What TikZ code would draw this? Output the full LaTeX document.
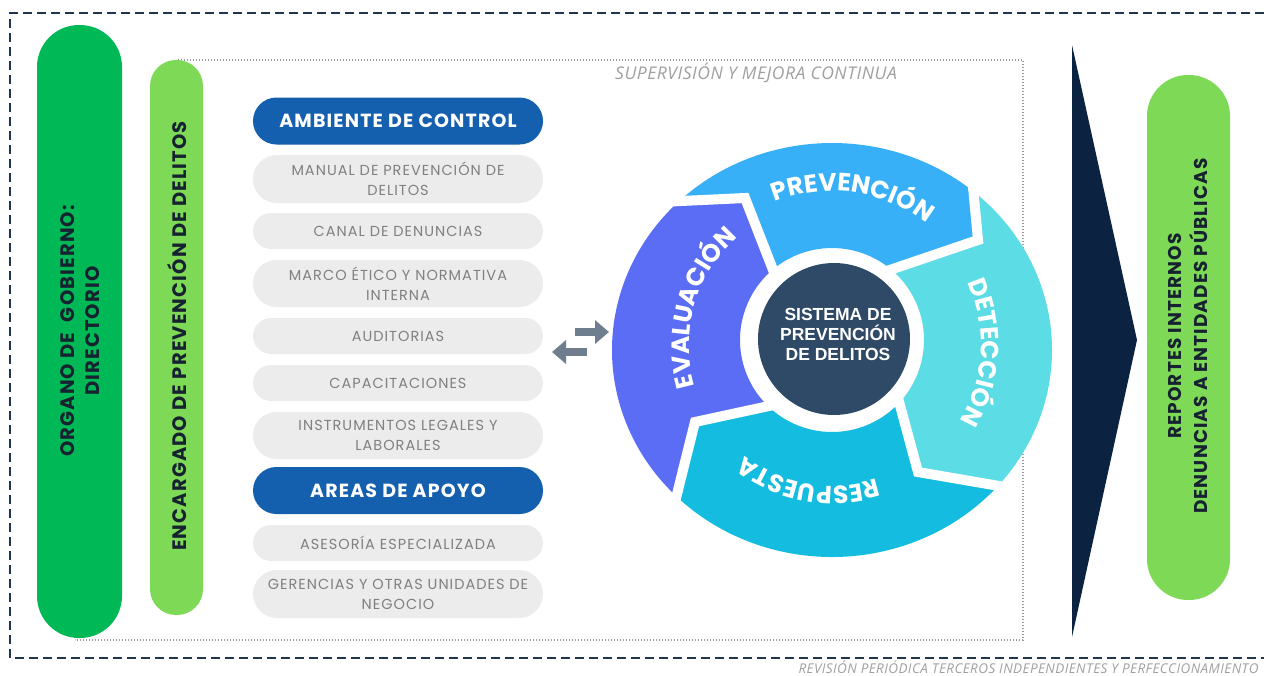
\documentclass[tikz,border=0pt]{standalone}
\usepackage{fontspec}
\setmainfont{Poppins}
\newfontfamily\popw[LetterSpace=6]{Poppins}
\newfontfamily\popl[LetterSpace=7]{Poppins}
\newfontfamily\osans[LetterSpace=3]{Open Sans}
\newfontfamily\lsans{Liberation Sans}
\usetikzlibrary{calc,decorations.text,arrows.meta}
\definecolor{navy}{HTML}{1F3550}
\definecolor{darkgreen}{HTML}{00B956}
\definecolor{lightgreen}{HTML}{7ED957}
\definecolor{hdrblue}{HTML}{1560AE}
\definecolor{pillgray}{HTML}{ECECEC}
\definecolor{pilltext}{HTML}{808080}
\definecolor{arrowgray}{HTML}{6E7E8E}
\definecolor{chev}{HTML}{0B2341}
\definecolor{evalc}{HTML}{5B6CF5}
\definecolor{prevc}{HTML}{38B0F7}
\definecolor{detc}{HTML}{5CDCE4}
\definecolor{respc}{HTML}{14BDE0}
\definecolor{corec}{HTML}{2F4A66}
\definecolor{labelgray}{HTML}{A0A0A0}
\definecolor{dotgray}{HTML}{9A9A9A}
\definecolor{bartext}{HTML}{162230}
\newcommand\segfont{\bfseries\fontsize{25}{25}\selectfont}
\begin{document}
\begin{tikzpicture}[x=1pt,y=-1pt,
 pill/.style={fill=pillgray, rounded corners=18pt, minimum width=290pt, text=pilltext, align=center, font=\popl\fontsize{14.5}{20}\selectfont, inner sep=0pt},
 hdr/.style={fill=hdrblue, rounded corners=23.5pt, minimum width=290pt, minimum height=47pt, text=white, font=\popw\bfseries\fontsize{19}{20}\selectfont, inner sep=0pt},
 bartxt/.style={rotate=90, align=center, text=bartext, font=\popw\bfseries\fontsize{19.5}{25}\selectfont},
 seglabel/.style={decorate, decoration={text along path, text align=center, text color=white, text={|\segfont|#1}}},
 gap/.style={draw=white, line width=10pt, line join=miter},
 flow/.style={draw=arrowgray, line width=8pt, -{Triangle[length=14pt,width=23pt]}}
]
\useasboundingbox (0,0) rectangle (1264,675);
\fill[white] (0,0) rectangle (1264,675);

% frames
\draw[navy, line width=2.5pt, dash pattern=on 9pt off 5pt] (1264,13) -- (10,13) -- (10,658) -- (1264,658);
\draw[dotgray, line width=1.3pt, dash pattern=on 1.3pt off 1.7pt] (178,60) -- (1023,60) -- (1023,640) -- (75,640);
\node[font=\osans\itshape\fontsize{17.5}{17.5}\selectfont, text=labelgray] (sup) at (756,73) {SUPERVISIÓN Y MEJORA CONTINUA};
\node[font=\osans\itshape\fontsize{13.5}{13.5}\selectfont, text=labelgray, anchor=east] (rev) at (1262,667) {REVISIÓN PERIÓDICA TERCEROS INDEPENDIENTES Y PERFECCIONAMIENTO};

% left bars
\node[fill=darkgreen, minimum width=85pt, minimum height=613pt, rounded corners=42pt, inner sep=0pt] (gov) at (79.5,331.5) {};
\node[bartxt] (govtxt) at (80,331) {ORGANO DE\ \ GOBIERNO:\\DIRECTORIO};
\node[fill=lightgreen, minimum width=53pt, minimum height=555pt, rounded corners=26pt, inner sep=0pt] (enc) at (176.5,337.5) {};
\node[bartxt] (enctxt) at (177,336) {ENCARGADO DE PREVENCIÓN DE DELITOS};

% list column
\node[hdr] (amb) at (398,121) {AMBIENTE DE CONTROL};
\node[pill, minimum height=48pt, rounded corners=24pt] (man) at (398,179) {MANUAL DE PREVENCIÓN DE\\DELITOS};
\node[pill, minimum height=36pt] (can) at (398,231) {CANAL DE DENUNCIAS};
\node[pill, minimum height=47pt, rounded corners=23.5pt] (mar) at (398,283.5) {MARCO ÉTICO Y NORMATIVA\\INTERNA};
\node[pill, minimum height=36pt] (aud) at (398,336) {AUDITORIAS};
\node[pill, minimum height=36pt] (cap) at (398,383) {CAPACITACIONES};
\node[pill, minimum height=47pt, rounded corners=23.5pt] (ins) at (398,435.5) {INSTRUMENTOS LEGALES Y\\LABORALES};
\node[hdr] (are) at (398,490.5) {AREAS DE APOYO};
\node[pill, minimum height=36pt] (ase) at (398,543) {ASESORÍA ESPECIALIZADA};
\node[pill, minimum height=48pt, rounded corners=24pt] (ger) at (398,594) {GERENCIAS Y OTRAS UNIDADES DE\\NEGOCIO};

% exchange arrows
\coordinate (a1s) at (575,332);
\coordinate (a1e) at (609,332);
\coordinate (a2s) at (587,352);
\coordinate (a2e) at (552,352);
\draw[flow] (a1s) -- (a1e);
\draw[flow] (a2s) -- (a2e);

% cycle
\coordinate (oc) at (832,350);
\coordinate (ic) at (832,340);
\coordinate (tc) at (832,345);
\coordinate (o1) at ($(oc)+(134:220pt and 207pt)$);
\coordinate (o2) at ($(oc)+(50:220pt and 207pt)$);
\coordinate (o3) at ($(oc)+(-41:220pt and 207pt)$);
\coordinate (o4) at ($(oc)+(225:220pt and 207pt)$);
\coordinate (i1) at ($(ic)+(130:92pt)$);
\coordinate (i2) at ($(ic)+(50:92pt)$);
\coordinate (i3) at ($(ic)+(-43:92pt)$);
\coordinate (i4) at ($(ic)+(226:92pt)$);
\coordinate (c1) at (745,198);
\coordinate (c2) at (978,240);
\coordinate (c3) at (918,472);
\coordinate (c4) at (695,422);

\fill[prevc] (o1) arc[start angle=134, end angle=50, x radius=220pt, y radius=207pt] -- (c2) -- (i2) arc[start angle=50, end angle=130, radius=92pt] -- (c1) -- cycle;
\fill[detc] (o2) arc[start angle=50, end angle=-41, x radius=220pt, y radius=207pt] -- (c3) -- (i3) arc[start angle=-43, end angle=50, radius=92pt] -- (c2) -- cycle;
\fill[respc] (o3) arc[start angle=-41, end angle=-135, x radius=220pt, y radius=207pt] -- (c4) -- (i4) arc[start angle=-134, end angle=-43, radius=92pt] -- (c3) -- cycle;
\fill[evalc] (o4) arc[start angle=225, end angle=134, x radius=220pt, y radius=207pt] -- (c1) -- (i1) arc[start angle=130, end angle=226, radius=92pt] -- (c4) -- cycle;

\draw[gap] ($(c1)!1.3!(o1)$) -- (c1) -- ($(c1)!1.15!(i1)$);
\draw[gap] ($(c2)!1.3!(o2)$) -- (c2) -- ($(c2)!1.15!(i2)$);
\draw[gap] ($(c3)!1.3!(o3)$) -- (c3) -- ($(c3)!1.15!(i3)$);
\draw[gap] ($(c4)!1.3!(o4)$) -- (c4) -- ($(c4)!1.15!(i4)$);

\path[seglabel=PREVENCIÓN] ($(tc)+(142:154pt)$) arc[start angle=142, end angle=22, radius=154pt];
\path[seglabel=DETECCIÓN] ($(tc)+(57:149pt)$) arc[start angle=57, end angle=-63, radius=149pt];
\path[seglabel=RESPUESTA] ($(tc)+(-40:141pt)$) arc[start angle=-40, end angle=-160, radius=141pt];
\path[seglabel=EVALUACIÓN] ($(tc)+(224:143pt)$) arc[start angle=224, end angle=104, radius=143pt];

\node[circle, fill=corec, minimum size=152pt, inner sep=0pt] (core) at (834,339) {};
\node[align=center, text=white, font=\lsans\bfseries\fontsize{17.5}{20}\selectfont] (coretxt) at (838,334) {SISTEMA DE\\PREVENCIÓN\\DE DELITOS};

% output chevron and reports
\fill[chev] (1072,45) -- (1137,340) -- (1072,637) -- cycle;
\node[fill=lightgreen, minimum width=83pt, minimum height=525pt, rounded corners=41pt, inner sep=0pt] (rep) at (1188.5,337.5) {};
\node[bartxt, font=\popw\bfseries\fontsize{18.5}{26}\selectfont] (reptxt) at (1188,336) {REPORTES INTERNOS\\DENUNCIAS A ENTIDADES PÚBLICAS};
\end{tikzpicture}
\end{document}
